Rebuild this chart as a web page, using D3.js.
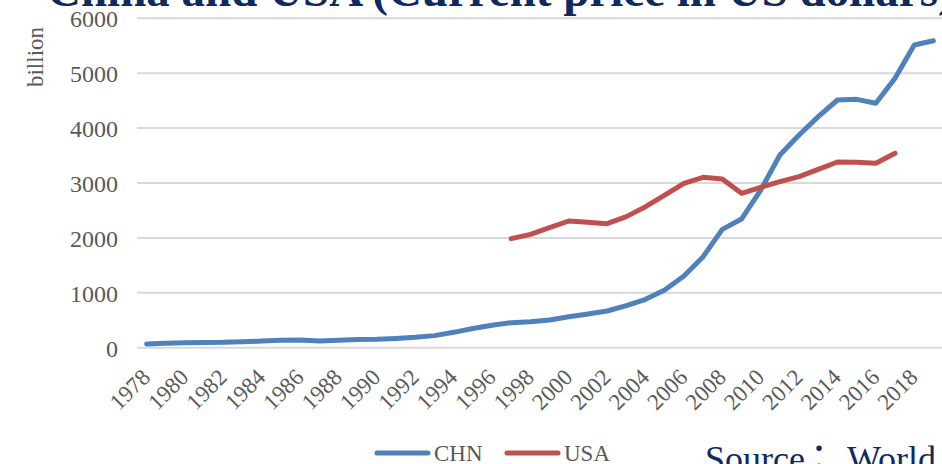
<!DOCTYPE html>
<html>
<head>
<meta charset="utf-8">
<script src="https://cdn.jsdelivr.net/npm/d3@7"></script>
<style>
  html, body { margin: 0; padding: 0; background: #fff; overflow: hidden; }
  svg { display: block; }
</style>
</head>
<body>
<svg id="chart" width="942" height="464"></svg>
<script>
// Yearly values, billions of US dollars
const years = d3.range(1978, 2020);
const chnValues = [67, 80, 92, 96, 98, 108, 120, 135, 140, 122, 135, 148, 153, 168, 190, 220, 280, 350, 410,
  456, 474, 504, 565, 614, 668, 765, 881, 1051, 1306, 1658, 2156, 2344, 2872, 3510, 3874, 4208, 4512, 4524,
  4452, 4907, 5514, 5592];
const usaYears = d3.range(1997, 2018);
const usaValues = [1986, 2065, 2186, 2308, 2284, 2259, 2387, 2569, 2781, 2994, 3103, 3073, 2812, 2922, 3024,
  3115, 3249, 3383, 3377, 3359, 3541];
const yTicks = [0, 1000, 2000, 3000, 4000, 5000, 6000];
const tickYears = d3.range(1978, 2020, 2);

const seriesNames = ["CHN", "USA"];
const seriesColors = ["#4f81bd", "#c0504d"];

const titleText = "China and USA (Current price in US dollars)";
const sourceParts = ["Source", "\uFF1A", "World"];

const svg = d3.select("#chart");
const serif = "'Liberation Serif', 'Times New Roman', serif";

const plot = { left: 137, right: 943, top: 18.3, bottom: 347.7 };

const x = d3.scaleBand()
  .domain(years)
  .range([plot.left, plot.right]);
const cx = yr => x(yr) + x.bandwidth() / 2;

const y = d3.scaleLinear()
  .domain([0, 6000])
  .range([plot.bottom, plot.top]);

// Title (runs off the top edge)
svg.append("text")
  .attr("x", 47)
  .attr("y", 6)
  .attr("font-family", serif)
  .attr("font-weight", "bold")
  .attr("font-size", 47)
  .attr("fill", "#0f2a5e")
  .text(titleText);

// Horizontal gridlines
svg.append("g")
  .selectAll("line")
  .data(yTicks)
  .join("line")
  .attr("x1", plot.left)
  .attr("x2", plot.right)
  .attr("y1", d => y(d))
  .attr("y2", d => y(d))
  .attr("stroke", "#d9d9d9")
  .attr("stroke-width", 2);

// Y axis labels
const yAxis = d3.axisLeft(y)
  .tickValues(yTicks)
  .tickFormat(d3.format("d"))
  .tickSize(0)
  .tickPadding(0);
const yg = svg.append("g")
  .attr("transform", `translate(${plot.left - 19},0)`)
  .call(yAxis);
yg.select(".domain").remove();
yg.selectAll("text")
  .attr("font-family", serif)
  .attr("font-size", 24)
  .attr("fill", "#595959")
  .attr("dy", "0.35em");

// Y axis title
svg.append("text")
  .attr("transform", "translate(43,57) rotate(-90)")
  .attr("text-anchor", "middle")
  .attr("font-family", serif)
  .attr("font-size", 23)
  .attr("fill", "#595959")
  .text("billion");

// X axis labels, rotated
const xAxis = d3.axisBottom(x)
  .tickValues(tickYears)
  .tickSize(0)
  .tickPadding(0);
const xg = svg.append("g")
  .attr("transform", `translate(0,${plot.bottom})`)
  .call(xAxis);
xg.select(".domain").remove();
xg.selectAll("text")
  .attr("font-family", serif)
  .attr("font-size", 23)
  .attr("fill", "#595959")
  .attr("text-anchor", "end")
  .attr("dy", 0)
  .attr("transform", "translate(5,31) rotate(-45)");

// Lines
const line = d3.line()
  .x(d => cx(d.year))
  .y(d => y(d.value));

const chnData = years.map((yr, i) => ({ year: yr, value: chnValues[i] }));
const usaData = usaYears.map((yr, i) => ({ year: yr, value: usaValues[i] }));

[chnData, usaData].forEach((data, i) => {
  svg.append("path")
    .datum(data)
    .attr("fill", "none")
    .attr("stroke", seriesColors[i])
    .attr("stroke-width", 5)
    .attr("stroke-linejoin", "round")
    .attr("stroke-linecap", "round")
    .attr("d", line);
});

// Legend
const legendX = [377, 507];
const legend = svg.append("g");
seriesNames.forEach((name, i) => {
  legend.append("line")
    .attr("x1", legendX[i])
    .attr("x2", legendX[i] + 51)
    .attr("y1", 453)
    .attr("y2", 453)
    .attr("stroke", seriesColors[i])
    .attr("stroke-width", 5)
    .attr("stroke-linecap", "round");
  legend.append("text")
    .attr("x", legendX[i] + 57)
    .attr("y", 461)
    .attr("font-family", serif)
    .attr("font-size", 23)
    .attr("fill", "#595959")
    .text(name);
});

// Source note (runs off the bottom edge)
const source = svg.append("text")
  .attr("y", 471)
  .attr("font-family", serif)
  .attr("font-size", 36)
  .attr("fill", "#0f2a5e");
source.append("tspan").attr("x", 705).text(sourceParts[0]);
source.append("tspan").attr("x", 801)
  .attr("font-family", "'Noto Sans CJK JP', sans-serif")
  .text(sourceParts[1]);
source.append("tspan").attr("x", 847).text(sourceParts[2]);
</script>
</body>
</html>
